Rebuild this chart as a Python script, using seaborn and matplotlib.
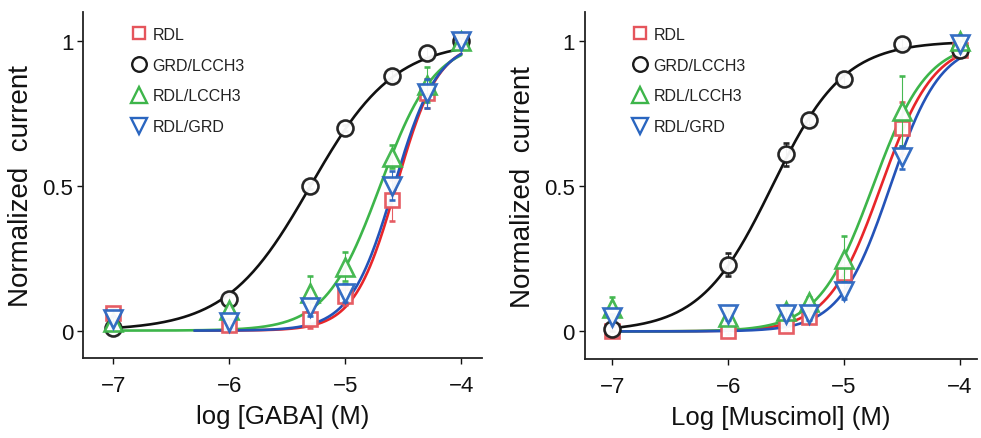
import numpy as np
import pandas as pd
import matplotlib
matplotlib.use("Agg")
import matplotlib.pyplot as plt
from matplotlib.lines import Line2D
import seaborn as sns

# ---- data ----
series = ["RDL", "GRD/LCCH3", "RDL/LCCH3", "RDL/GRD"]

gaba_x = [-7, -6, -5.3, -5, -4.6, -4.3, -4]
gaba_rdl = [0.06, 0.02, 0.04, 0.12, 0.45, 0.82, 1.0]
gaba_rdl_sem = [0.02, 0.01, 0.03, 0.03, 0.07, 0.05, 0.01]
gaba_grd_lcch3 = [0.01, 0.11, 0.50, 0.70, 0.88, 0.96, 1.0]
gaba_grd_lcch3_sem = [0.01, 0.02, 0.01, 0.01, 0.02, 0.02, 0.01]
gaba_rdl_lcch3 = [0.03, 0.07, 0.13, 0.22, 0.60, 0.85, 1.0]
gaba_rdl_lcch3_sem = [0.01, 0.02, 0.06, 0.05, 0.04, 0.06, 0.01]
gaba_rdl_grd = [0.04, 0.03, 0.08, 0.13, 0.50, 0.82, 1.0]
gaba_rdl_grd_sem = [0.01, 0.01, 0.03, 0.03, 0.05, 0.05, 0.01]
# Hill fit parameters (log EC50, Hill slope, first x of drawn curve)
gaba_ec50 = [-4.56, -5.30, -4.70, -4.58]
gaba_hill = [2.4, 1.2, 1.85, 2.3]
gaba_fit_start = [-6.3, -7.05, -7.0, -6.3]

musc_x = [-7, -6, -5.5, -5.3, -5, -4.5, -4]
musc_rdl = [0.00, 0.00, 0.02, 0.05, 0.20, 0.70, 0.97]
musc_rdl_sem = [0.01, 0.01, 0.02, 0.02, 0.06, 0.09, 0.01]
musc_grd_lcch3 = [0.01, 0.23, 0.61, 0.73, 0.87, 0.99, 0.97]
musc_grd_lcch3_sem = [0.01, 0.04, 0.04, 0.02, 0.02, 0.02, 0.01]
musc_rdl_lcch3 = [0.08, 0.05, 0.07, 0.10, 0.25, 0.76, 1.0]
musc_rdl_lcch3_sem = [0.04, 0.02, 0.02, 0.02, 0.08, 0.12, 0.01]
musc_rdl_grd = [0.05, 0.06, 0.06, 0.06, 0.14, 0.60, 0.99]
musc_rdl_grd_sem = [0.01, 0.02, 0.02, 0.02, 0.03, 0.04, 0.01]
musc_ec50 = [-4.68, -5.62, -4.75, -4.60]
musc_hill = [1.9, 1.4, 1.85, 2.0]
musc_fit_start = [-7.0, -7.0, -7.0, -7.0]

x_ticks = [-7, -6, -5, -4]
y_ticks = [0, 0.5, 1]
y_ticklabels = ["0", "0.5", "1"]

# ---- styles ----
line_colors = {"RDL": "#e8262a", "GRD/LCCH3": "#111111",
               "RDL/LCCH3": "#3db54a", "RDL/GRD": "#2453b8"}
marker_colors = {"RDL": "#e5555c", "GRD/LCCH3": "#1a1a1a",
                 "RDL/LCCH3": "#3db54a", "RDL/GRD": "#2a66c0"}
markers = {"RDL": "s", "GRD/LCCH3": "o", "RDL/LCCH3": "^", "RDL/GRD": "v"}
msizes = {"RDL": 10, "GRD/LCCH3": 11.5, "RDL/LCCH3": 12.5, "RDL/GRD": 12.5}

sns.set_style("ticks")
plt.rcParams["font.family"] = ["Liberation Sans", "DejaVu Sans"]
plt.rcParams["axes.unicode_minus"] = True


def hill_curves(ec50s, hills, starts):
    rows = []
    for name, e, n, s in zip(series, ec50s, hills, starts):
        xs = np.linspace(s, -4.0, 200)
        ys = 1.0 / (1.0 + 10 ** ((e - xs) * n))
        rows.append(pd.DataFrame({"x": xs, "y": ys, "series": name}))
    return pd.concat(rows, ignore_index=True)


def draw_panel(ax, xvals, ys, sems, ec50s, hills, starts, xlabel):
    curves = hill_curves(ec50s, hills, starts)
    sns.lineplot(data=curves, x="x", y="y", hue="series", palette=line_colors,
                 hue_order=series, legend=False, ax=ax, lw=1.9, zorder=2)
    for i, name in enumerate(series):
        ax.errorbar(xvals, ys[i], yerr=sems[i], fmt=markers[name], ms=msizes[name],
                    mfc="white", mec=marker_colors[name], mew=1.9,
                    ecolor=marker_colors[name], elinewidth=0.8, capsize=2.5,
                    capthick=0.8, zorder=3 + i, alpha=0.95)
    ax.set_xlim(-7.26, -3.82)
    ax.set_ylim(-0.095, 1.1)
    ax.set_xticks(x_ticks)
    ax.set_xticklabels([f"\u2212{abs(t)}" for t in x_ticks])
    ax.set_yticks(y_ticks)
    ax.set_yticklabels(y_ticklabels)
    ax.tick_params(labelsize=16, length=4, width=1, colors="#111111")
    ax.tick_params(axis="y", pad=3)
    ax.tick_params(axis="x", pad=8)
    ax.set_xlabel(xlabel, fontsize=18.5, color="#111111", labelpad=6)
    ax.set_ylabel("Normalized  current", fontsize=20, color="#111111", labelpad=6)
    sns.despine(ax=ax)
    for sp in ["left", "bottom"]:
        ax.spines[sp].set_linewidth(1.3)
        ax.spines[sp].set_color("#222222")
    handles = [Line2D([], [], ls="none", marker=markers[n], ms=msizes[n] - 1,
                      mfc="white", mec=marker_colors[n], mew=1.7) for n in series]
    ax.legend(handles, series, loc="upper left", bbox_to_anchor=(0.08, 1.0),
              frameon=False, fontsize=11.5, labelspacing=1.0,
              handletextpad=0.25, handlelength=1.2, labelcolor="#222222")


fig = plt.figure(figsize=(9.81, 4.39), dpi=100)
ax1 = fig.add_axes([0.0846, 0.182, 0.407, 0.788])
ax2 = fig.add_axes([0.596, 0.180, 0.400, 0.790])

draw_panel(ax1, gaba_x,
           [gaba_rdl, gaba_grd_lcch3, gaba_rdl_lcch3, gaba_rdl_grd],
           [gaba_rdl_sem, gaba_grd_lcch3_sem, gaba_rdl_lcch3_sem, gaba_rdl_grd_sem],
           gaba_ec50, gaba_hill, gaba_fit_start, "log [GABA] (M)")
draw_panel(ax2, musc_x,
           [musc_rdl, musc_grd_lcch3, musc_rdl_lcch3, musc_rdl_grd],
           [musc_rdl_sem, musc_grd_lcch3_sem, musc_rdl_lcch3_sem, musc_rdl_grd_sem],
           musc_ec50, musc_hill, musc_fit_start, "Log [Muscimol] (M)")
ax2.set_xlim(-7.24, -3.85)

fig.savefig("out.png", dpi=100)
